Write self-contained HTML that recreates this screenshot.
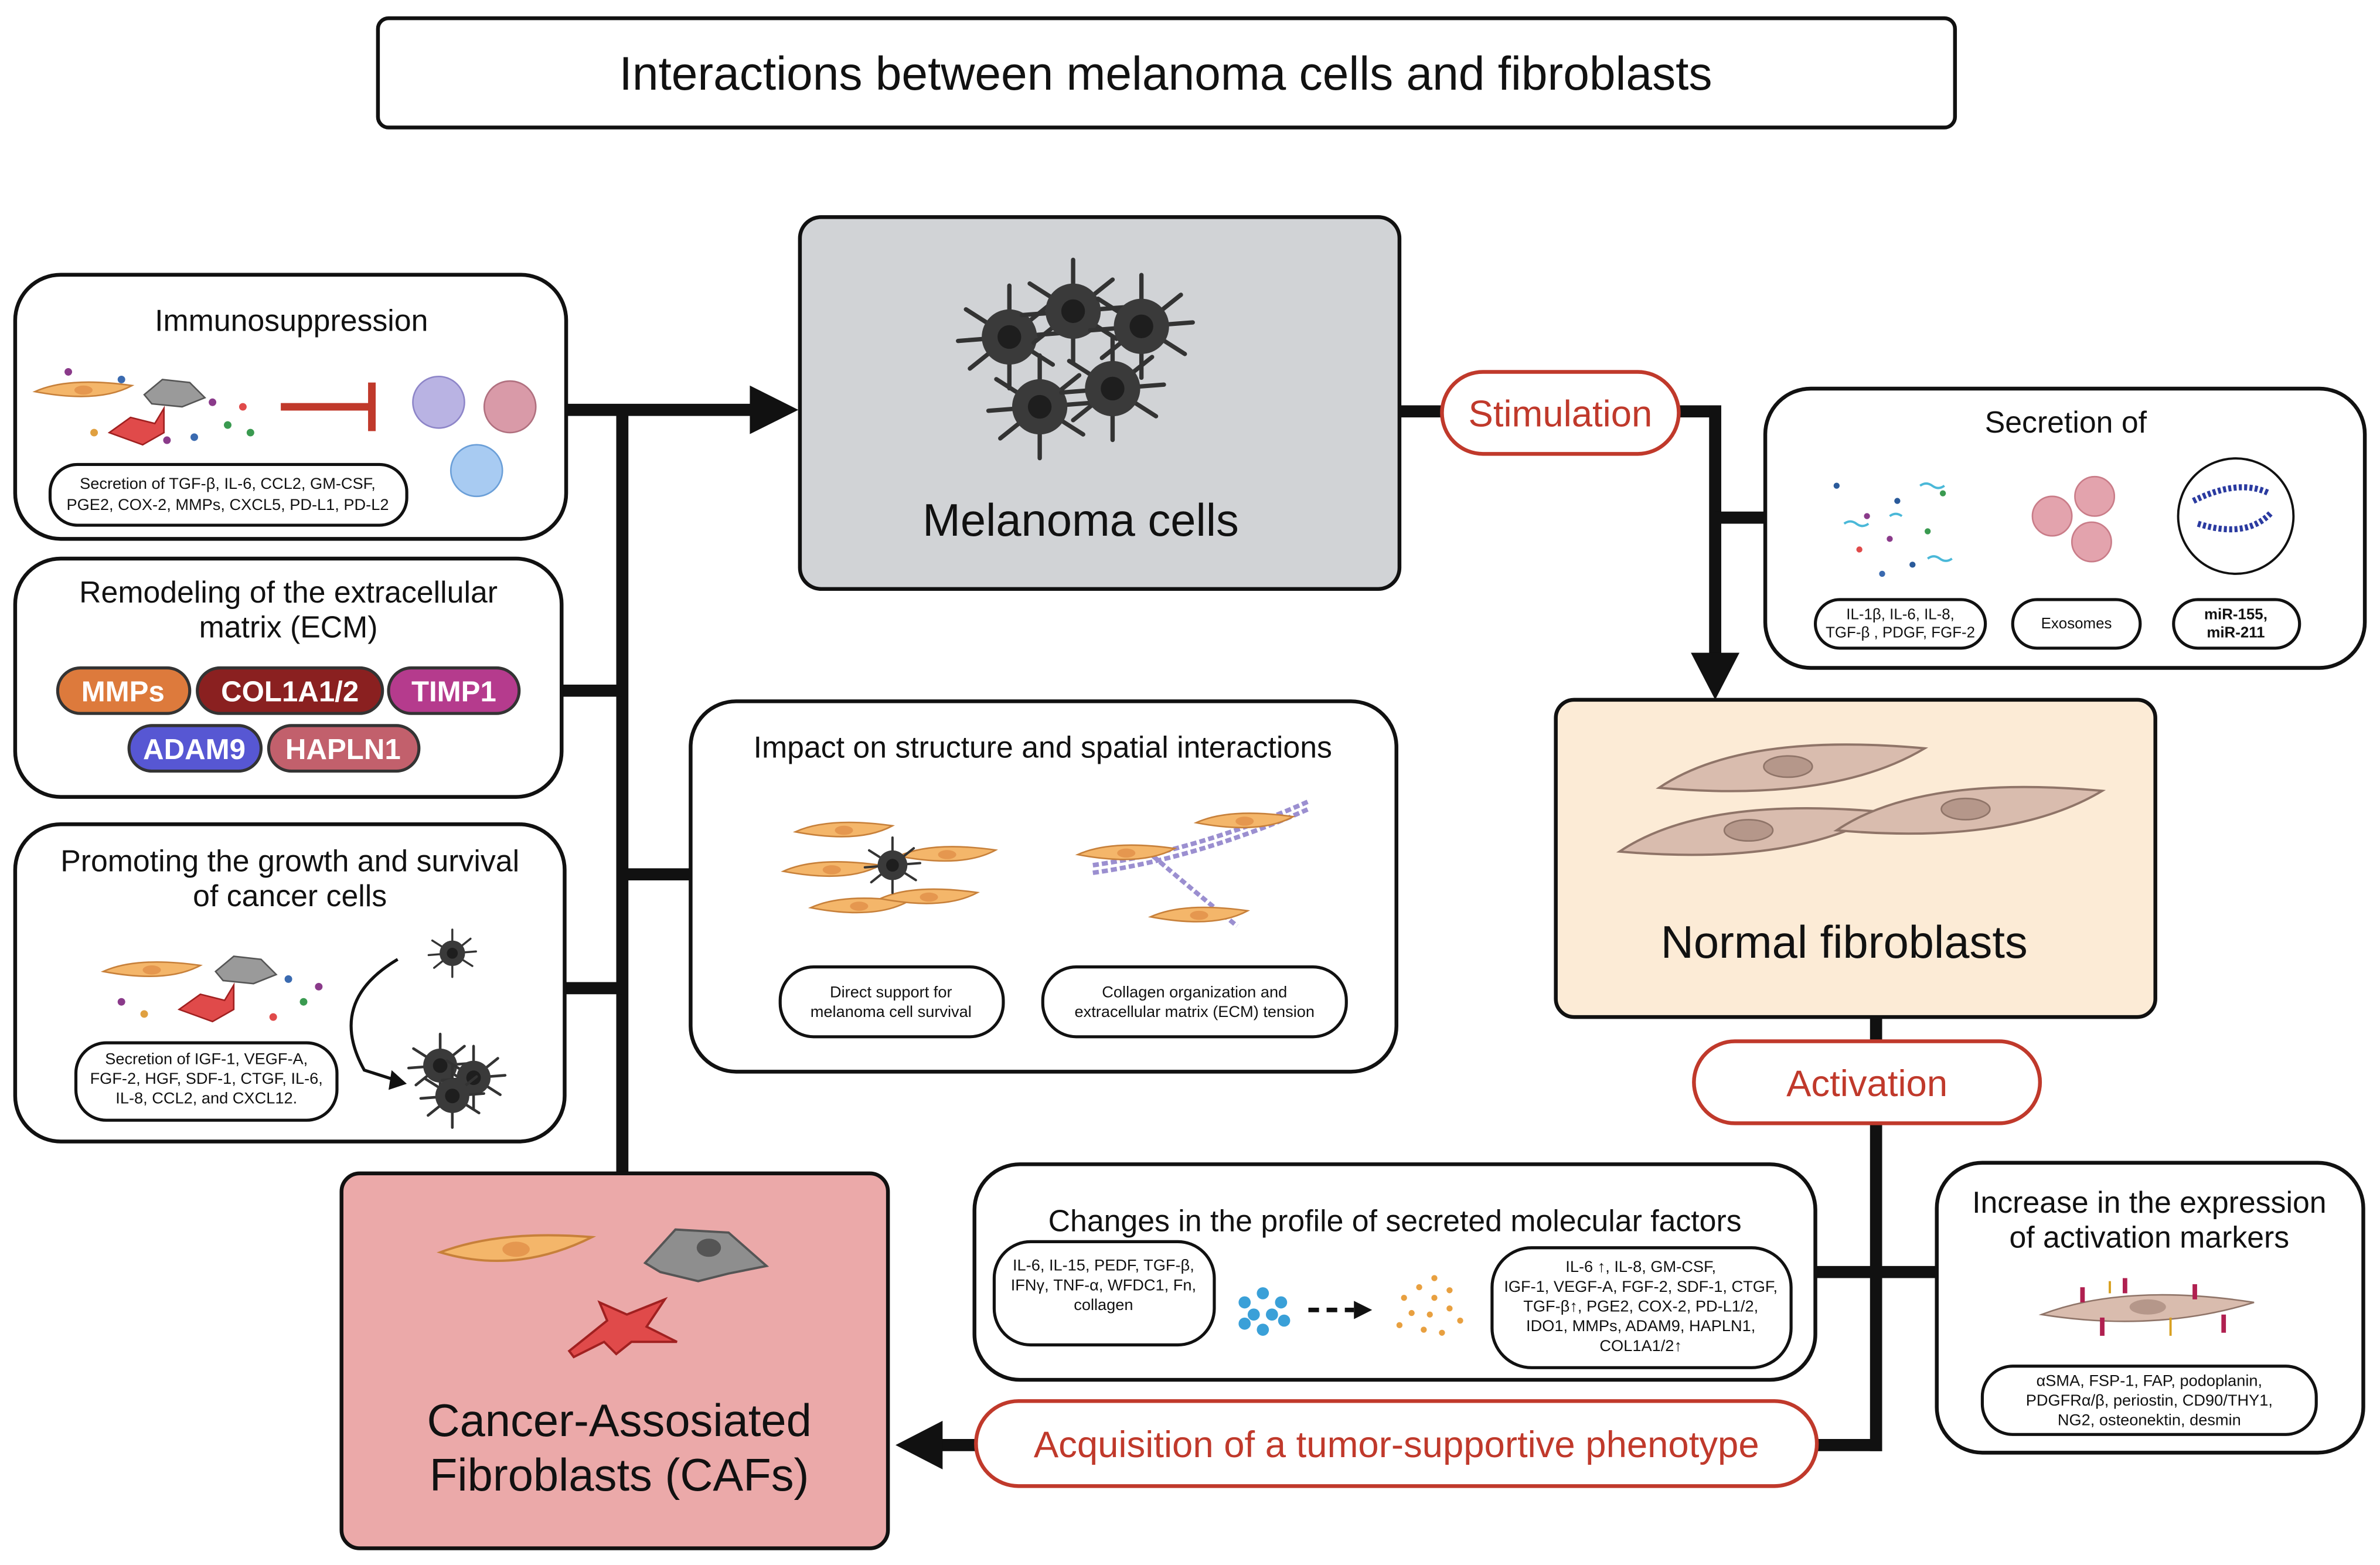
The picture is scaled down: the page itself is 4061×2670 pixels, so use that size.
<!DOCTYPE html>
<html><head><meta charset="utf-8"><style>
html,body{margin:0;padding:0;background:#fff}
svg{display:block}
text{font-family:"Liberation Sans",sans-serif;fill:#111}
</style></head><body>
<svg width="4061" height="2670" viewBox="0 0 1568 1031" preserveAspectRatio="none" xmlns="http://www.w3.org/2000/svg">
<defs>
<g id="mel"><g stroke="#333" stroke-width="2.2" stroke-linecap="round"><line x1="-22" y1="-14" x2="22" y2="14"/><line x1="-20" y1="16" x2="20" y2="-16"/><line x1="0" y1="-26" x2="0" y2="26"/><line x1="-26" y1="2" x2="26" y2="-2"/></g><circle r="14" fill="#3a3a3a"/><circle r="6" fill="#1e1e1e"/></g>
<g id="fibO"><path d="M-32 0 Q-10 -10 32 -4 Q10 8 -32 0Z" fill="#f4b66a" stroke="#c7803a" stroke-width="1"/><ellipse cx="0" cy="-1" rx="6" ry="3" fill="#e5974f"/></g>
<g id="fibN"><path d="M-85 12 Q-30 -25 90 -14 Q30 22 -85 12Z" fill="#d9bcae" stroke="#8f7468" stroke-width="1.5"/><ellipse cx="0" cy="-2" rx="16" ry="7" fill="#b5978a" stroke="#8f7468"/></g>
</defs>

<g fill="none" stroke="#111" stroke-width="8">
<line x1="410" y1="270" x2="410" y2="773"/>
<line x1="373" y1="270" x2="500" y2="270"/>
<line x1="370" y1="455" x2="410" y2="455"/>
<line x1="372" y1="651" x2="410" y2="651"/>
<line x1="410" y1="576" x2="455" y2="576"/>
<line x1="922" y1="271" x2="950" y2="271"/>
<line x1="1106" y1="271" x2="1130" y2="271"/>
<line x1="1130" y1="267" x2="1130" y2="435"/>
<line x1="1130" y1="341" x2="1163" y2="341"/>
<line x1="1236" y1="670" x2="1236" y2="686"/>
<line x1="1236" y1="740" x2="1236" y2="956"/>
<line x1="1197" y1="952" x2="1240" y2="952"/>
<line x1="1196" y1="838" x2="1276" y2="838"/>
<line x1="643" y1="952" x2="615" y2="952"/>
</g>
<polygon points="494,254 526,270 494,286" fill="#111"/>
<polygon points="1114,430 1146,430 1130,461" fill="#111"/>
<polygon points="621,936 621,968 590,952" fill="#111"/>

<rect x="249" y="12" width="1039" height="72" rx="7" fill="#fff" stroke="#111" stroke-width="2.5"/>
<text x="768" y="59" font-size="31" text-anchor="middle">Interactions between melanoma cells and fibroblasts</text>

<rect x="527" y="143" width="395" height="245" rx="14" fill="#d1d3d6" stroke="#111" stroke-width="2.5"/>
<use href="#mel" transform="translate(665,222) scale(1.3)"/>
<use href="#mel" transform="translate(707,205) scale(1.3)"/>
<use href="#mel" transform="translate(752,215) scale(1.3)"/>
<use href="#mel" transform="translate(685,268) scale(1.3)"/>
<use href="#mel" transform="translate(733,256) scale(1.3)"/>
<text x="712" y="353" font-size="30" text-anchor="middle">Melanoma cells</text>

<rect x="10" y="181" width="363" height="174" rx="30" fill="#fff" stroke="#111" stroke-width="2.5"/>
<text x="192" y="218" font-size="20" text-anchor="middle">Immunosuppression</text>
<use href="#fibO" transform="translate(55,258)"/>
<path d="M95 260 l12 -10 l18 2 l10 10 l-15 6 l-20 -2z" fill="#9a9a9a" stroke="#555"/>
<path d="M72 285 l14 -10 l16 4 l6 -10 l0 16 l-14 8 z" fill="#e04a4a" stroke="#a02020"/>
<g fill="#8a3a8a"><circle cx="45" cy="245" r="2.5"/><circle cx="80" cy="250" r="2.5" fill="#3a6ab0"/><circle cx="140" cy="265" r="2.5"/><circle cx="150" cy="280" r="2.5" fill="#3a9a50"/><circle cx="160" cy="268" r="2.5" fill="#e04a4a"/><circle cx="128" cy="288" r="2.5" fill="#3a6ab0"/><circle cx="62" cy="285" r="2.5" fill="#e0a040"/><circle cx="110" cy="290" r="2.5"/><circle cx="165" cy="285" r="2.5" fill="#3a9a50"/></g>
<line x1="185" y1="268" x2="245" y2="268" stroke="#c0392b" stroke-width="5"/>
<line x1="245" y1="252" x2="245" y2="284" stroke="#c0392b" stroke-width="5"/>
<circle cx="289" cy="265" r="17" fill="#b9b3e3" stroke="#8d85c8"/>
<circle cx="336" cy="268" r="17" fill="#d99aa8" stroke="#b0707f"/>
<circle cx="314" cy="310" r="17" fill="#a8cbf2" stroke="#6b9fd8"/>
<rect x="33" y="306" width="235" height="40" rx="18" fill="#fff" stroke="#111" stroke-width="2"/>
<text x="150" y="322" font-size="10.5" text-anchor="middle">Secretion of TGF-β, IL-6, CCL2, GM-CSF,</text>
<text x="150" y="336" font-size="10.5" text-anchor="middle">PGE2, COX-2, MMPs, CXCL5, PD-L1, PD-L2</text>

<rect x="10" y="368" width="360" height="157" rx="30" fill="#fff" stroke="#111" stroke-width="2.5"/>
<text x="190" y="397" font-size="20" text-anchor="middle">Remodeling of the extracellular</text>
<text x="190" y="420" font-size="20" text-anchor="middle">matrix (ECM)</text>
<g stroke="#333" stroke-width="2">
<rect x="38" y="440" width="87" height="30" rx="15" fill="#dd7a3c"/>
<rect x="130" y="440" width="122" height="30" rx="15" fill="#8a2020"/>
<rect x="256" y="440" width="86" height="30" rx="15" fill="#b53b8d"/>
<rect x="85" y="478" width="87" height="30" rx="15" fill="#5757d3"/>
<rect x="177" y="478" width="99" height="30" rx="15" fill="#c2606c"/>
</g>
<g font-size="19" font-weight="bold" text-anchor="middle">
<text x="81" y="462" style="fill:#fff">MMPs</text><text x="191" y="462" style="fill:#fff">COL1A1/2</text><text x="299" y="462" style="fill:#fff">TIMP1</text><text x="128" y="500" style="fill:#fff">ADAM9</text><text x="226" y="500" style="fill:#fff">HAPLN1</text>
</g>

<rect x="10" y="543" width="362" height="209" rx="30" fill="#fff" stroke="#111" stroke-width="2.5"/>
<text x="191" y="574" font-size="20" text-anchor="middle">Promoting the growth and survival</text>
<text x="191" y="597" font-size="20" text-anchor="middle">of cancer cells</text>
<use href="#fibO" transform="translate(100,640)"/>
<path d="M142 640 l12 -10 l18 2 l10 10 l-15 6 l-20 -2z" fill="#9a9a9a" stroke="#555"/>
<path d="M118 665 l14 -10 l16 4 l6 -10 l0 16 l-14 8 z" fill="#e04a4a" stroke="#a02020"/>
<g fill="#8a3a8a"><circle cx="80" cy="660" r="2.5"/><circle cx="190" cy="645" r="2.5" fill="#3a6ab0"/><circle cx="200" cy="660" r="2.5" fill="#3a9a50"/><circle cx="180" cy="670" r="2.5" fill="#e04a4a"/><circle cx="95" cy="668" r="2.5" fill="#e0a040"/><circle cx="210" cy="650" r="2.5"/></g>
<path d="M262 632 Q215 660 240 705 L262 712" fill="none" stroke="#111" stroke-width="2"/>
<polygon points="258,705 268,714 256,718" fill="#111"/>
<use href="#mel" transform="translate(298,628) scale(0.6)"/>
<use href="#mel" transform="translate(290,702) scale(0.8)"/>
<use href="#mel" transform="translate(312,710) scale(0.8)"/>
<use href="#mel" transform="translate(298,722) scale(0.8)"/>
<rect x="50" y="687" width="172" height="51" rx="20" fill="#fff" stroke="#111" stroke-width="2"/>
<text x="136" y="701" font-size="10.5" text-anchor="middle">Secretion of IGF-1, VEGF-A,</text>
<text x="136" y="714" font-size="10.5" text-anchor="middle">FGF-2, HGF, SDF-1, CTGF, IL-6,</text>
<text x="136" y="727" font-size="10.5" text-anchor="middle">IL-8, CCL2, and CXCL12.</text>

<rect x="455" y="462" width="465" height="244" rx="30" fill="#fff" stroke="#111" stroke-width="2.5"/>
<text x="687" y="499" font-size="20" text-anchor="middle">Impact on structure and spatial interactions</text>
<use href="#fibO" transform="translate(556,548)"/>
<use href="#fibO" transform="translate(624,564)"/>
<use href="#fibO" transform="translate(548,574)"/>
<use href="#fibO" transform="translate(566,598)"/>
<use href="#fibO" transform="translate(612,592)"/>
<use href="#mel" transform="translate(588,570) scale(0.7)"/>
<path d="M720 570 Q790 560 862 528 M720 575 Q790 565 862 533" stroke="#9b8fd0" stroke-width="3" fill="none" stroke-dasharray="4 2"/>
<path d="M755 560 Q790 590 815 610" stroke="#9b8fd0" stroke-width="3" fill="none" stroke-dasharray="4 2"/>
<use href="#fibO" transform="translate(742,563)"/>
<use href="#fibO" transform="translate(820,542)"/>
<use href="#fibO" transform="translate(790,604)"/>
<rect x="514" y="637" width="147" height="46" rx="22" fill="#fff" stroke="#111" stroke-width="2"/>
<text x="587" y="657" font-size="10.5" text-anchor="middle">Direct support for</text>
<text x="587" y="670" font-size="10.5" text-anchor="middle">melanoma cell survival</text>
<rect x="687" y="637" width="200" height="46" rx="22" fill="#fff" stroke="#111" stroke-width="2"/>
<text x="787" y="657" font-size="10.5" text-anchor="middle">Collagen organization and</text>
<text x="787" y="670" font-size="10.5" text-anchor="middle">extracellular matrix (ECM) tension</text>

<rect x="950" y="245" width="156" height="54" rx="27" fill="#fff" stroke="#c0392b" stroke-width="2.5"/>
<text x="1028" y="281" font-size="24.5" text-anchor="middle" style="fill:#c0392b">Stimulation</text>

<rect x="1163" y="256" width="395" height="184" rx="30" fill="#fff" stroke="#111" stroke-width="2.5"/>
<text x="1361" y="285" font-size="20" text-anchor="middle">Secretion of</text>
<g fill="#2a5a9a"><circle cx="1210" cy="320" r="2"/><circle cx="1230" cy="340" r="2" fill="#8a3a8a"/><circle cx="1250" cy="330" r="2"/><circle cx="1270" cy="350" r="2" fill="#3a9a50"/><circle cx="1225" cy="362" r="2" fill="#e04a4a"/><circle cx="1260" cy="372" r="2"/><circle cx="1245" cy="355" r="2" fill="#8a3a8a"/><circle cx="1280" cy="325" r="2" fill="#3a9a50"/><circle cx="1240" cy="378" r="2" fill="#3a6ab0"/></g>
<g stroke="#4ab8d8" stroke-width="1.5" fill="none"><path d="M1215 345 q4 -3 8 0 q4 3 8 0"/><path d="M1265 320 q4 -3 8 0 q4 3 8 0"/><path d="M1270 368 q4 -3 8 0 q4 3 8 0"/><path d="M1245 340 q4 -3 8 0"/></g>
<circle cx="1352" cy="340" r="13" fill="#e3a3ad" stroke="#c97c88"/>
<circle cx="1380" cy="327" r="13" fill="#e3a3ad" stroke="#c97c88"/>
<circle cx="1378" cy="357" r="13" fill="#e3a3ad" stroke="#c97c88"/>
<circle cx="1473" cy="340" r="38" fill="#fff" stroke="#111" stroke-width="1.5"/>
<path d="M1445 330 Q1475 315 1495 325 M1448 345 Q1480 355 1496 338" stroke="#2a3aa0" stroke-width="4" fill="none" stroke-dasharray="2 1.5"/>
<rect x="1196" y="395" width="112" height="32" rx="16" fill="#fff" stroke="#111" stroke-width="2"/>
<text x="1252" y="408" font-size="10" text-anchor="middle">IL-1β, IL-6, IL-8,</text>
<text x="1252" y="420" font-size="10" text-anchor="middle">TGF-β , PDGF, FGF-2</text>
<rect x="1326" y="395" width="84" height="32" rx="16" fill="#fff" stroke="#111" stroke-width="2"/>
<text x="1368" y="414" font-size="10" text-anchor="middle">Exosomes</text>
<rect x="1432" y="395" width="83" height="32" rx="16" fill="#fff" stroke="#111" stroke-width="2"/>
<text x="1473" y="408" font-size="10" font-weight="bold" text-anchor="middle">miR-155,</text>
<text x="1473" y="420" font-size="10" font-weight="bold" text-anchor="middle">miR-211</text>

<rect x="1025" y="461" width="395" height="209" rx="12" fill="#fcebd6" stroke="#111" stroke-width="2.5"/>
<use href="#fibN" transform="translate(1178,507)"/>
<use href="#fibN" transform="translate(1152,549)"/>
<use href="#fibN" transform="translate(1295,535)"/>
<text x="1215" y="631" font-size="30" text-anchor="middle">Normal fibroblasts</text>

<rect x="1116" y="686" width="228" height="54" rx="27" fill="#fff" stroke="#c0392b" stroke-width="2.5"/>
<text x="1230" y="722" font-size="24.5" text-anchor="middle" style="fill:#c0392b">Activation</text>

<rect x="642" y="767" width="554" height="142" rx="30" fill="#fff" stroke="#111" stroke-width="2.5"/>
<text x="919" y="811" font-size="20" text-anchor="middle">Changes in the profile of secreted molecular factors</text>
<rect x="655" y="818" width="145" height="68" rx="24" fill="#fff" stroke="#111" stroke-width="2"/>
<text x="727" y="837" font-size="10.5" text-anchor="middle">IL-6, IL-15, PEDF, TGF-β,</text>
<text x="727" y="850" font-size="10.5" text-anchor="middle">IFNγ, TNF-α, WFDC1, Fn,</text>
<text x="727" y="863" font-size="10.5" text-anchor="middle">collagen</text>
<g fill="#3aa0d8"><circle cx="820" cy="858" r="4"/><circle cx="832" cy="852" r="4"/><circle cx="844" cy="858" r="4"/><circle cx="826" cy="866" r="4"/><circle cx="838" cy="866" r="4"/><circle cx="832" cy="876" r="4"/><circle cx="820" cy="872" r="4"/><circle cx="846" cy="870" r="4"/></g>
<line x1="862" y1="863" x2="892" y2="863" stroke="#111" stroke-width="3" stroke-dasharray="7 5"/>
<polygon points="892,857 904,863 892,869" fill="#111"/>
<g fill="#e8a040"><circle cx="925" cy="855" r="2"/><circle cx="935" cy="848" r="2"/><circle cx="945" cy="855" r="2"/><circle cx="955" cy="850" r="2"/><circle cx="930" cy="865" r="2"/><circle cx="942" cy="866" r="2"/><circle cx="955" cy="862" r="2"/><circle cx="962" cy="870" r="2"/><circle cx="938" cy="876" r="2"/><circle cx="950" cy="878" r="2"/><circle cx="922" cy="873" r="2"/><circle cx="945" cy="842" r="2"/></g>
<rect x="983" y="822" width="197" height="79" rx="26" fill="#fff" stroke="#111" stroke-width="2"/>
<g font-size="10.5" text-anchor="middle">
<text x="1081" y="838">IL-6 ↑, IL-8, GM-CSF,</text>
<text x="1081" y="851">IGF-1, VEGF-A, FGF-2, SDF-1, CTGF,</text>
<text x="1081" y="864">TGF-β↑, PGE2, COX-2, PD-L1/2,</text>
<text x="1081" y="877">IDO1, MMPs, ADAM9, HAPLN1,</text>
<text x="1081" y="890">COL1A1/2↑</text>
</g>

<rect x="1276" y="766" width="281" height="191" rx="30" fill="#fff" stroke="#111" stroke-width="2.5"/>
<text x="1416" y="799" font-size="20" text-anchor="middle">Increase in the expression</text>
<text x="1416" y="822" font-size="20" text-anchor="middle">of activation markers</text>
<path d="M1345 866 Q1400 845 1485 858 Q1420 878 1345 866Z" fill="#d9bcae" stroke="#8f7468"/>
<ellipse cx="1415" cy="861" rx="12" ry="5" fill="#b5978a"/>
<g stroke="#b02050" stroke-width="3"><line x1="1372" y1="848" x2="1372" y2="858"/><line x1="1400" y1="842" x2="1400" y2="852"/><line x1="1446" y1="846" x2="1446" y2="856"/><line x1="1385" y1="868" x2="1385" y2="880"/><line x1="1465" y1="866" x2="1465" y2="878"/></g>
<g stroke="#d8a020" stroke-width="1.5"><line x1="1390" y1="844" x2="1390" y2="852"/><line x1="1430" y1="868" x2="1430" y2="880"/></g>
<rect x="1306" y="900" width="220" height="45" rx="20" fill="#fff" stroke="#111" stroke-width="2"/>
<text x="1416" y="913" font-size="10.5" text-anchor="middle">αSMA, FSP-1, FAP, podoplanin,</text>
<text x="1416" y="926" font-size="10.5" text-anchor="middle">PDGFRα/β, periostin, CD90/THY1,</text>
<text x="1416" y="939" font-size="10.5" text-anchor="middle">NG2, osteonektin, desmin</text>

<rect x="643" y="923" width="554" height="56" rx="28" fill="#fff" stroke="#c0392b" stroke-width="2.5"/>
<text x="920" y="960" font-size="24.5" text-anchor="middle" style="fill:#c0392b">Acquisition of a tumor-supportive phenotype</text>

<rect x="225" y="773" width="360" height="247" rx="12" fill="#eba9a9" stroke="#111" stroke-width="2.5"/>
<path d="M290 825 Q330 810 390 815 Q340 840 290 825Z" fill="#f4b66a" stroke="#c7803a" stroke-width="1.5"/>
<ellipse cx="340" cy="823" rx="9" ry="5" fill="#e5974f"/>
<path d="M425 832 l20 -22 l35 2 l25 22 l-25 5 l-20 5 l-25 -6z" fill="#8e8e8e" stroke="#555" stroke-width="1.5"/>
<ellipse cx="467" cy="822" rx="8" ry="6" fill="#555"/>
<path d="M375 890 l25 -20 l-5 -12 l18 8 l25 -10 l-12 18 l20 10 l-30 0 l-10 8 l-8 -8 l-20 10z" fill="#e04a4a" stroke="#a02020" stroke-width="1.5"/>
<text x="408" y="946" font-size="30" text-anchor="middle">Cancer-Assosiated</text>
<text x="408" y="982" font-size="30" text-anchor="middle">Fibroblasts (CAFs)</text>
</svg>
</body></html>
